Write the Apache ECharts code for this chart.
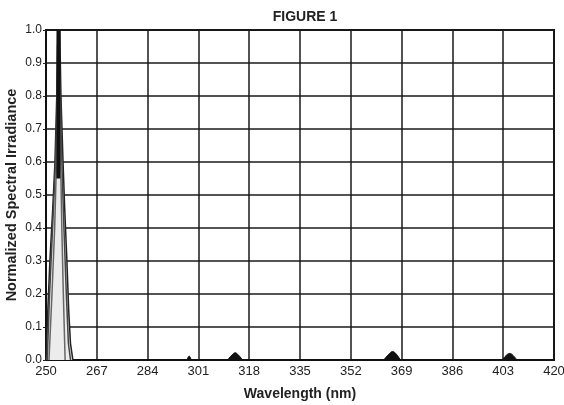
<!DOCTYPE html>
<html><head><meta charset="utf-8">
<script src="https://cdn.jsdelivr.net/npm/echarts@6/dist/echarts.min.js"></script>
<style>html,body{margin:0;padding:0;background:#fff}#c{width:564px;height:405px}</style>
</head><body><div id="c"></div>
<script>
// Wavelength (nm), normalized irradiance pairs
const xTicks = [250,267,284,301,318,335,352,369,386,403,420];
const yTicks = [0,0.1,0.2,0.3,0.4,0.5,0.6,0.7,0.8,0.9,1.0];
const peakOuter = [[250.0,0],[250.6,0.15],[251.3,0.3],[252.2,0.45],[253.0,0.6],[253.6,0.8],[253.9,1.0],[254.6,1.0],[255.0,0.8],[255.7,0.6],[256.3,0.45],[257.0,0.3],[257.6,0.15],[258.2,0.05],[259.0,0]];
const peakMid = [[250.4,0],[251.2,0.2],[252.2,0.4],[253.2,0.6],[253.8,0.8],[254.0,1.0],[254.5,1.0],[254.8,0.8],[255.3,0.6],[256.0,0.4],[256.8,0.2],[257.5,0.05],[258.2,0]];
const peakInner = [[251.0,0],[252.0,0.2],[252.9,0.4],[253.5,0.6],[253.9,0.8],[254.1,1.0],[254.4,1.0],[254.6,0.8],[254.9,0.6],[255.3,0.4],[255.8,0.2],[256.4,0]];
const peakCore = [[254.15,0.55],[254.2,1.0]];
const peak298 = [[297.2,0],[297.9,0.012],[298.6,0]];
const peak313 = [[310.8,0],[312.2,0.015],[313.3,0.022],[314.4,0.015],[315.8,0]];
const peak366 = [[363.0,0],[364.8,0.018],[366.0,0.026],[367.2,0.018],[368.6,0]];
const peak405 = [[402.6,0],[404.0,0.014],[405.2,0.02],[406.3,0.014],[407.6,0]];

const chart = echarts.init(document.getElementById('c'), null, {renderer:'canvas'});
const fontFam = '"Liberation Sans", Arial, Helvetica, sans-serif';
function line(data, color, width, fill) {
  return {type:'line', data, showSymbol:false, symbol:'none', smooth:false, clip:true,
    lineStyle:{color, width}, areaStyle: fill ? {color:fill, opacity:1} : undefined, z:3};
}
function bump(data){
  return {type:'line', data, showSymbol:false, symbol:'none', smooth:0.4,
    lineStyle:{color:'#111', width:1}, areaStyle:{color:'#111', opacity:1}, z:3};
}
chart.setOption({
  animation:false,
  backgroundColor:'#fff',
  title:{text:'FIGURE 1', left:300, top:5, textAlign:'center',
    textStyle:{fontFamily:fontFam, fontSize:14, fontWeight:'bold', color:'#222'}},
  grid:{left:46, right:10, top:30, bottom:45, containLabel:false, outerBoundsMode:'none',
    show:true, borderColor:'#111', borderWidth:2},
  xAxis:{type:'value', min:250, max:420, interval:17,
    name:'Wavelength (nm)', nameLocation:'middle', nameGap:27, nameMoveOverlap:false,
    nameTextStyle:{fontFamily:fontFam, fontSize:14, fontWeight:'bold', color:'#222'},
    axisLine:{show:true, lineStyle:{color:'#111', width:2}},
    axisTick:{show:false},
    axisLabel:{fontFamily:fontFam, fontSize:13, color:'#222', margin:5,
      formatter:v=>xTicks.includes(v)?String(v):''},
    splitLine:{show:true, lineStyle:{color:'#1a1a1a', width:1.5}}},
  yAxis:{type:'value', min:0, max:1, interval:0.1,
    name:'Normalized Spectral Irradiance', nameLocation:'middle', nameGap:27, nameMoveOverlap:false,
    nameTextStyle:{fontFamily:fontFam, fontSize:14.5, fontWeight:'bold', color:'#222'},
    axisLine:{show:true, lineStyle:{color:'#111', width:2}},
    axisTick:{show:true, length:3, lineStyle:{color:'#222'}},
    axisLabel:{fontFamily:fontFam, fontSize:12, color:'#222', margin:4,
      formatter:v=>{const t=yTicks.find(k=>Math.abs(k-v)<1e-6);return t===undefined?'':t.toFixed(1);}},
    splitLine:{show:true, lineStyle:{color:'#1a1a1a', width:1.5}}},
  series:[
    line(peakOuter, '#222', 1.5, '#dcdcdc'),
    line(peakMid, '#444', 1.5, '#ececec'),
    line(peakInner, '#666', 1.5),
    line(peakCore, '#111', 4),
    bump(peak298), bump(peak313), bump(peak366), bump(peak405)
  ]
});
</script></body></html>
